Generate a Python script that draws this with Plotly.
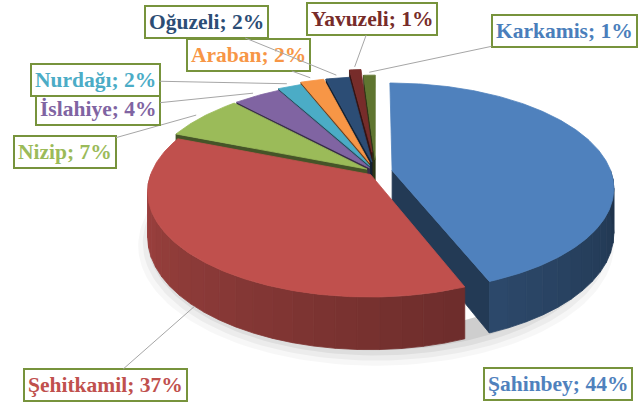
import numpy as np
import plotly.graph_objects as go

# ---- data ----
names = ["Şahinbey", "Şehitkamil", "Nizip", "İslahiye", "Nurdağı",
         "Araban", "Oğuzeli", "Yavuzeli", "Karkamis"]
values = [44, 37, 7, 4, 2, 2, 2, 1, 1]

# ---- styles ----
top_colors = ["#4F81BD", "#C0504D", "#9BBB59", "#8064A2", "#4BACC6",
              "#F79646", "#2C4D75", "#772C2A", "#5F7530"]
label_colors = ["#4F81BD", "#C0504D", "#9BBB59", "#8064A2", "#4BACC6",
                "#F79646", "#2C4D75", "#772C2A", "#4A7EBB"]
explode = [0.075, 0.035, 0.05, 0.05, 0.07, 0.10, 0.10, 0.20, 0.12]
label_boxes = [(558, 384), (105, 385), (65, 152), (98, 109), (95, 80),
               (248, 55), (206, 22), (372, 19), (564, 31)]

# projection parameters (pixel space)
CX, CY = 376, 172
RX, RY = 219, 102
P = 0.16
DEPTH = 44


def proj(X, Y, z):
    X = np.asarray(X, float)
    Y = np.asarray(Y, float)
    s = 1.0 / (1.0 + P * Y)
    return CX + RX * X * s, CY - RY * Y * s + z * DEPTH * s


def shade(hexc, f):
    h = hexc.lstrip("#")
    r, g, b = (int(h[i:i + 2], 16) for i in (0, 2, 4))
    return "rgb(%d,%d,%d)" % (min(255, r * f), min(255, g * f), min(255, b * f))


def poly(xs, ys, color):
    return go.Scatter(x=list(xs) + [xs[0]], y=list(ys) + [ys[0]], mode="lines",
                      fill="toself", fillcolor=color,
                      line=dict(color=color, width=0.8),
                      hoverinfo="skip", showlegend=False)


total = float(sum(values))
cum = np.cumsum([0] + values) / total
slices = []
for i in range(len(values)):
    a1 = 90 - 360 * cum[i]        # start (ccw-most)
    a2 = 90 - 360 * cum[i + 1]    # end
    m = (a1 + a2) / 2
    ox = explode[i] * np.cos(np.radians(m))
    oy = explode[i] * np.sin(np.radians(m))
    slices.append(dict(i=i, a1=a1, a2=a2, m=m, ox=ox, oy=oy))

walls = []
tops = []
shadow = []

# soft shadow under the pie
tt = np.radians(np.linspace(-200, 20, 120))
for rr, dy, op in [(1.07, 9, 0.03), (1.05, 7, 0.045), (1.03, 5, 0.06), (1.01, 3, 0.07)]:
    sx, sy = proj(rr * np.cos(tt), rr * np.sin(tt), 1)
    sx2, sy2 = proj(0.9 * np.cos(tt[::-1]), 0.9 * np.sin(tt[::-1]), 1)
    xs = np.concatenate([sx, sx2])
    ys = np.concatenate([sy + dy, sy2])
    shadow.append(go.Scatter(x=list(xs) + [xs[0]], y=list(ys) + [ys[0]], mode="lines",
                             fill="toself", fillcolor="rgba(0,0,0,%g)" % op,
                             line=dict(width=0), hoverinfo="skip", showlegend=False))

order = sorted(slices, key=lambda s: -np.sin(np.radians(s["m"])))
for s in order:
    c = top_colors[s["i"]]
    ox, oy = s["ox"], s["oy"]
    # radial faces
    for a, vis in ((s["a1"], np.cos(np.radians(s["a1"])) < -1e-6),
                   (s["a2"], np.cos(np.radians(s["a2"])) > 1e-6)):
        if vis:
            ra = np.radians(a)
            X = [ox, ox + np.cos(ra), ox + np.cos(ra), ox]
            Y = [oy, oy + np.sin(ra), oy + np.sin(ra), oy]
            z = [0, 0, 1, 1]
            xs, ys = [], []
            for Xi, Yi, zi in zip(X, Y, z):
                px, py = proj(Xi, Yi, zi)
                xs.append(float(px)); ys.append(float(py))
            walls.append(poly(xs, ys, shade(c, 0.45)))
    # outer wall (front half only)
    lo = max(s["a2"], -180)
    hi = min(s["a1"], 0)
    if hi > lo:
        nseg = max(1, int(np.ceil((hi - lo) / 5)))
        edges = np.linspace(lo, hi, nseg + 1)
        for k in range(nseg):
            t = np.radians(np.linspace(edges[k], edges[k + 1], 6))
            Xa = ox + np.cos(t)
            Ya = oy + np.sin(t)
            tx, ty = proj(Xa, Ya, 0)
            bx, by = proj(Xa[::-1], Ya[::-1], 1)
            tm = (edges[k] + edges[k + 1]) / 2
            f = 0.84 - 0.44 * (tm + 180) / 180
            walls.append(poly(np.concatenate([tx, bx]), np.concatenate([ty, by]), shade(c, f)))
    # top face
    t = np.radians(np.linspace(s["a1"], s["a2"], max(4, int(abs(s["a1"] - s["a2"]) * 1.5))))
    Xa = np.concatenate([[ox], ox + np.cos(t)])
    Ya = np.concatenate([[oy], oy + np.sin(t)])
    tx, ty = proj(Xa, Ya, 0)
    tops.append(poly(tx, ty, c))

fig = go.Figure(shadow + walls + tops)

annotations = []
for s in slices:
    i = s["i"]
    bx, by = label_boxes[i]
    rm = np.radians(s["m"])
    front = np.sin(rm) < -0.3
    if front:
        px, py = proj(s["ox"] + np.cos(rm), s["oy"] + np.sin(rm), 1)
    else:
        px, py = proj(s["ox"] + 1.04 * np.cos(rm), s["oy"] + 1.04 * np.sin(rm), 0)
    txt = "<b>%s; %d%%</b>" % (names[i], values[i])
    common = dict(text=txt, xref="x", yref="y", bgcolor="white",
                  bordercolor="#77933C", borderwidth=2, borderpad=3,
                  font=dict(family="Liberation Serif", size=21.5, color=label_colors[i]))
    if i == 0:
        annotations.append(dict(x=bx, y=by, showarrow=False, **common))
    else:
        annotations.append(dict(x=float(px), y=float(py), ax=bx, ay=by,
                                axref="x", ayref="y", showarrow=True,
                                arrowhead=0, arrowwidth=1, arrowcolor="#A6A6A6",
                                standoff=0, startstandoff=0, **common))

fig.update_layout(
    width=638, height=405, autosize=False,
    margin=dict(l=0, r=0, t=0, b=0),
    paper_bgcolor="white", plot_bgcolor="white",
    xaxis=dict(range=[0, 638], visible=False, fixedrange=True),
    yaxis=dict(range=[405, 0], visible=False, fixedrange=True),
    annotations=annotations,
    showlegend=False,
)
fig.write_html("out.html", config={"displayModeBar": False},
               post_script="document.body.style.margin='0';document.body.style.overflow='hidden';")
